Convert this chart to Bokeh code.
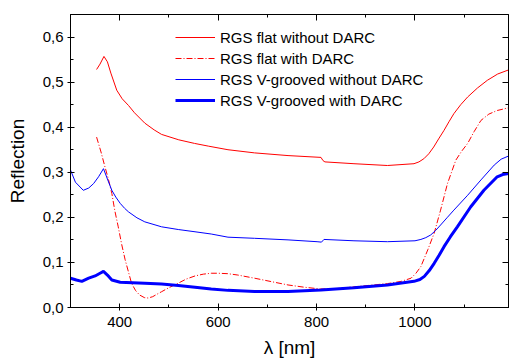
from bokeh.plotting import figure
from bokeh.models import (Range1d, LinearAxis, SingleIntervalTicker, CustomJSTickFormatter,
                          Legend, LegendItem)
from bokeh.embed import file_html
from bokeh.resources import INLINE

# --- data ---
wl_flat = [353, 360, 368, 375, 382, 394, 405, 418, 430, 451, 470, 485, 520, 552, 580, 620, 674,
           742, 809, 813, 817, 876, 944, 998, 1008, 1018, 1028, 1038, 1048, 1059, 1069, 1079,
           1093, 1107, 1127, 1147, 1168, 1190]
r_flat = [0.528, 0.540, 0.557, 0.545, 0.520, 0.482, 0.463, 0.448, 0.432, 0.409, 0.394, 0.384,
          0.372, 0.364, 0.358, 0.350, 0.343, 0.337, 0.333, 0.326, 0.323, 0.319, 0.315, 0.319,
          0.323, 0.330, 0.341, 0.356, 0.374, 0.393, 0.412, 0.430, 0.450, 0.467, 0.487, 0.504,
          0.518, 0.527]

wl_flat_darc = [353, 362, 370, 377, 384, 390, 397, 404, 411, 418, 424, 432, 440, 450, 458, 467,
                475, 485, 500, 519, 535, 553, 570, 586, 600, 620, 640, 674, 710, 742, 775, 809,
                840, 877, 944, 972, 992, 1002, 1012, 1026, 1039, 1052, 1066, 1083, 1095, 1107,
                1120, 1134, 1150, 1167, 1190]
r_flat_darc = [0.378, 0.345, 0.312, 0.285, 0.253, 0.215, 0.179, 0.140, 0.106, 0.078, 0.054,
               0.038, 0.028, 0.022, 0.021, 0.024, 0.029, 0.035, 0.044, 0.054, 0.063, 0.070,
               0.074, 0.076, 0.076, 0.075, 0.072, 0.065, 0.057, 0.050, 0.045, 0.041, 0.042,
               0.046, 0.053, 0.058, 0.065, 0.076, 0.091, 0.128, 0.165, 0.216, 0.275, 0.327,
               0.347, 0.364, 0.390, 0.415, 0.429, 0.437, 0.443]

wl_vg = [300, 310, 326, 337, 347, 357, 367, 375, 384, 392, 401, 410, 418, 435, 451, 485, 519,
         553, 586, 620, 674, 742, 801, 810, 815, 876, 944, 1000, 1012, 1022, 1032, 1042, 1052,
         1065, 1079, 1107, 1134, 1161, 1175, 1190]
r_vg = [0.305, 0.278, 0.260, 0.265, 0.275, 0.290, 0.308, 0.285, 0.260, 0.245, 0.231, 0.220,
        0.212, 0.199, 0.190, 0.179, 0.173, 0.168, 0.163, 0.156, 0.1535, 0.150, 0.146, 0.145,
        0.151, 0.148, 0.146, 0.148, 0.151, 0.155, 0.161, 0.171, 0.183, 0.199, 0.216, 0.249,
        0.283, 0.316, 0.329, 0.336]

wl_vg_darc = [300, 312, 323, 337, 350, 360, 367, 375, 384, 401, 451, 485, 519, 553, 586, 620,
              674, 742, 809, 876, 944, 998, 1010, 1019, 1029, 1039, 1049, 1059, 1072, 1086,
              1113, 1140, 1167, 1178, 1190]
r_vg_darc = [0.065, 0.061, 0.058, 0.065, 0.070, 0.076, 0.080, 0.072, 0.061, 0.056, 0.054,
             0.052, 0.049, 0.045, 0.041, 0.038, 0.0354, 0.0354, 0.039, 0.044, 0.050, 0.058,
             0.062, 0.069, 0.082, 0.098, 0.116, 0.135, 0.157, 0.179, 0.223, 0.260, 0.290,
             0.295, 0.297]

labels = ["RGS flat without DARC", "RGS flat with DARC",
          "RGS V-grooved without DARC", "RGS V-grooved with DARC"]

FONT = "Liberation Sans"

p = figure(width=512, height=360, output_backend="svg", toolbar_location=None,
           x_range=Range1d(300, 1190), y_range=Range1d(0, 0.65),
           min_border_left=70, min_border_right=4, min_border_top=14, min_border_bottom=52,
           x_axis_label="λ [nm]", y_axis_label="Reflection")
p.background_fill_color = "white"
p.border_fill_color = "white"
p.grid.visible = False
p.outline_line_color = "black"
p.outline_line_width = 1

xa = p.xaxis[0]
xa.ticker = SingleIntervalTicker(interval=200, num_minor_ticks=2)
ya = p.yaxis[0]
ya.ticker = SingleIntervalTicker(interval=0.1, num_minor_ticks=2)
ya.formatter = CustomJSTickFormatter(code="return tick.toFixed(1).replace('.', ',');")

for ax in (xa, ya):
    ax.major_label_text_font = FONT
    ax.major_label_text_font_size = "15px"
    ax.major_label_text_color = "black"
    ax.axis_label_text_font = FONT
    ax.axis_label_text_font_size = "19px"
    ax.axis_label_text_font_style = "normal"
    ax.axis_label_text_color = "black"
    ax.major_tick_in = 4
    ax.major_tick_out = 3
    ax.minor_tick_in = 3
    ax.minor_tick_out = 0
    ax.axis_line_color = "black"
    ax.major_tick_line_color = "black"
    ax.minor_tick_line_color = "black"
xa.major_label_standoff = 6
xa.axis_label_standoff = 7
ya.major_label_standoff = 4
ya.axis_label_standoff = 12

top = LinearAxis(ticker=SingleIntervalTicker(interval=200, num_minor_ticks=2))
right = LinearAxis(ticker=SingleIntervalTicker(interval=0.1, num_minor_ticks=2))
for ax in (top, right):
    ax.major_label_text_font_size = "1px"
    ax.major_label_text_color = None
    ax.major_label_text_alpha = 0
    ax.major_label_standoff = 0
    ax.major_tick_in = 6
    ax.major_tick_out = 0
    ax.minor_tick_in = 3
    ax.minor_tick_out = 0
    ax.axis_line_color = "black"
p.add_layout(top, "above")
p.add_layout(right, "right")

r1 = p.line(wl_flat, r_flat, line_color="#ff0000", line_width=1)
r2 = p.line(wl_flat_darc, r_flat_darc, line_color="#ff0000", line_width=1, line_dash="6 2 1 2")
r3 = p.line(wl_vg, r_vg, line_color="#0000ff", line_width=1)
r4 = p.line(wl_vg_darc, r_vg_darc, line_color="#0000ff", line_width=3)

legend = Legend(items=[LegendItem(label=labels[0], renderers=[r1]),
                       LegendItem(label=labels[1], renderers=[r2]),
                       LegendItem(label=labels[2], renderers=[r3]),
                       LegendItem(label=labels[3], renderers=[r4])],
                location=(105, 197))
legend.label_text_font = FONT
legend.label_text_font_size = "15px"
legend.label_text_color = "black"
legend.glyph_width = 40
legend.glyph_height = 20
legend.label_height = 20
legend.label_standoff = 5
legend.spacing = 1
legend.padding = 0
legend.margin = 0
legend.border_line_color = None
legend.background_fill_alpha = 0
p.add_layout(legend, "center")

open("out.html", "w").write(file_html(p, INLINE))
